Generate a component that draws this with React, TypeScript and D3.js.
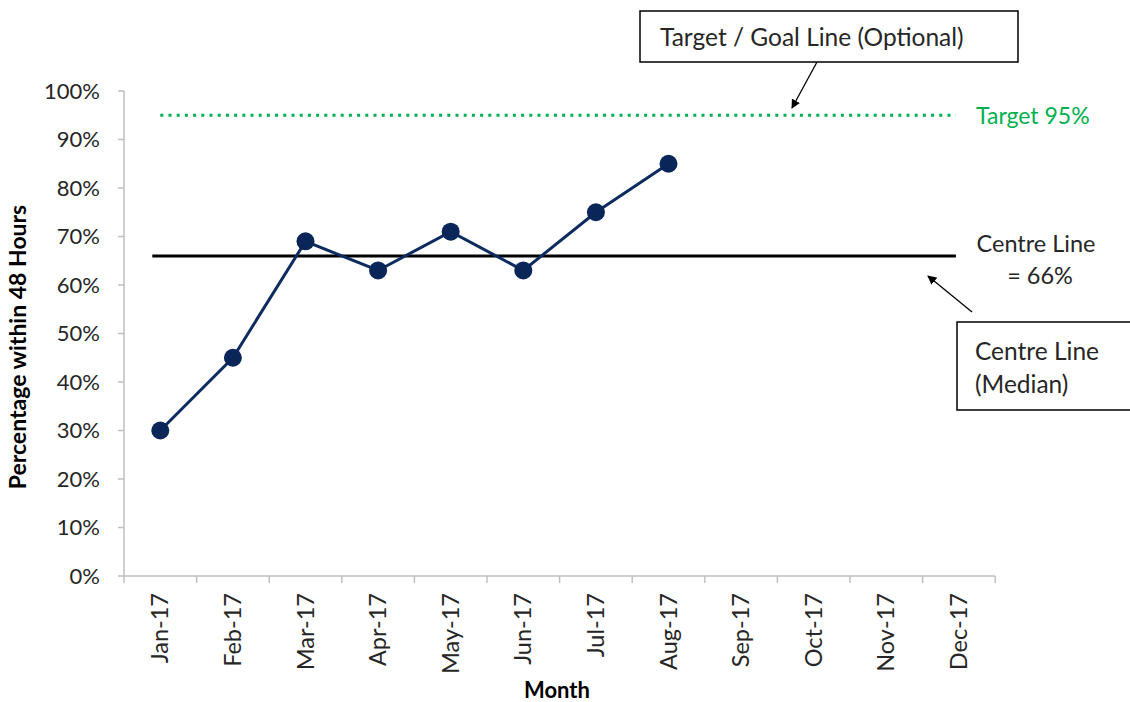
import React from "react";
import * as d3 from "d3";

const months = ["Jan-17","Feb-17","Mar-17","Apr-17","May-17","Jun-17","Jul-17","Aug-17","Sep-17","Oct-17","Nov-17","Dec-17"];
const values = [30, 45, 69, 63, 71, 63, 75, 85];
const yTicks = [0,10,20,30,40,50,60,70,80,90,100];
const medianValue = 66;
const targetValue = 95;

const FONT = "Lato, sans-serif";

export default function App() {
  const W = 1130, H = 702;
  const left = 124, right = 995.2, top = 91, bottom = 576;
  const x = d3.scaleBand<string>().domain(months).range([left, right]).padding(0);
  const y = d3.scaleLinear().domain([0, 100]).range([bottom, top]);
  const cx = (m: string) => (x(m) as number) + x.bandwidth() / 2;
  const line = d3.line<number>().x((_, i) => cx(months[i])).y(d => y(d));
  const axisColor = "#bfbfbf";
  const textColor = "#262626";
  const bounds = [...months.map(m => x(m) as number), right];

  return (
    <svg width={W} height={H} style={{ position: "absolute", left: 0, top: 0 }}>
      <defs>
        <marker id="arr" viewBox="0 0 10 10" refX="9" refY="5" markerWidth="7" markerHeight="7" orient="auto-start-reverse">
          <path d="M0,0 L10,5 L0,10 z" fill="#000" />
        </marker>
      </defs>
      <rect width={W} height={H} fill="#fff" />
      {/* y axis */}
      <line x1={left} x2={left} y1={top} y2={bottom} stroke={axisColor} strokeWidth={1.5} />
      {yTicks.map(t => (
        <g key={t}>
          <line x1={left - 6} x2={left} y1={y(t)} y2={y(t)} stroke={axisColor} strokeWidth={1.5} />
          <text x={left - 24} y={y(t)} dy="0.36em" textAnchor="end" fontFamily={FONT} fontSize={22} fill={textColor}>{t}%</text>
        </g>
      ))}
      {/* x axis */}
      <line x1={left} x2={right} y1={bottom} y2={bottom} stroke={axisColor} strokeWidth={1.5} />
      {bounds.map((b, i) => (
        <line key={i} x1={b} x2={b} y1={bottom} y2={bottom + 7} stroke={axisColor} strokeWidth={1.5} />
      ))}
      {months.map(m => (
        <text key={m} transform={`translate(${cx(m) + 8},${bottom + 17}) rotate(-90)`} textAnchor="end" fontFamily={FONT} fontSize={23.5} fill={textColor}>{m}</text>
      ))}
      {/* axis titles */}
      <text transform={`translate(26,347) rotate(-90)`} textAnchor="middle" fontFamily={FONT} fontSize={23} fontWeight="bold" fill="#000">Percentage within 48 Hours</text>
      <text x={557} y={698} textAnchor="middle" fontFamily={FONT} fontSize={22} fontWeight="bold" fill="#000">Month</text>

      {/* target line */}
      <line x1={cx(months[0])} x2={cx(months[11]) - 3} y1={y(targetValue)} y2={y(targetValue)} stroke="#00b050" strokeWidth={3} strokeDasharray="3 5.2" />
      <text x={976} y={y(targetValue)} dy="0.36em" fontFamily={FONT} fontSize={23} fill="#00b050">Target 95%</text>

      {/* centre line */}
      <line x1={cx(months[0]) - 8} x2={cx(months[11]) - 3} y1={y(medianValue)} y2={y(medianValue)} stroke="#000" strokeWidth={3} />
      <text x={1036} y={252} textAnchor="middle" fontFamily={FONT} fontSize={23.5} fill={textColor}>Centre Line</text>
      <text x={1040} y={284} textAnchor="middle" fontFamily={FONT} fontSize={23.5} fill={textColor}>= 66%</text>

      {/* data line */}
      <path d={line(values) || ""} fill="none" stroke="#0d2b5e" strokeWidth={3} />
      {values.map((v, i) => (
        <circle key={i} cx={cx(months[i])} cy={y(v)} r={9} fill="#0a2557" />
      ))}

      {/* annotation boxes */}
      <rect x={640} y={11} width={378} height={51} fill="#fff" stroke="#000" strokeWidth={1.5} />
      <text x={660} y={46} fontFamily={FONT} fontSize={24.5} fill={textColor}>Target / Goal Line (Optional)</text>
      <line x1={817} y1={62} x2={792} y2={108} stroke="#000" strokeWidth={1.3} markerEnd="url(#arr)" />

      <rect x={957} y={322} width={180} height={88} fill="#fff" stroke="#000" strokeWidth={1.5} />
      <text x={975} y={360} fontFamily={FONT} fontSize={24.5} fill={textColor}>Centre Line</text>
      <text x={975} y={393} fontFamily={FONT} fontSize={24.5} fill={textColor}>(Median)</text>
      <line x1={972} y1={312} x2={928} y2={276} stroke="#000" strokeWidth={1.3} markerEnd="url(#arr)" />
    </svg>
  );
}
